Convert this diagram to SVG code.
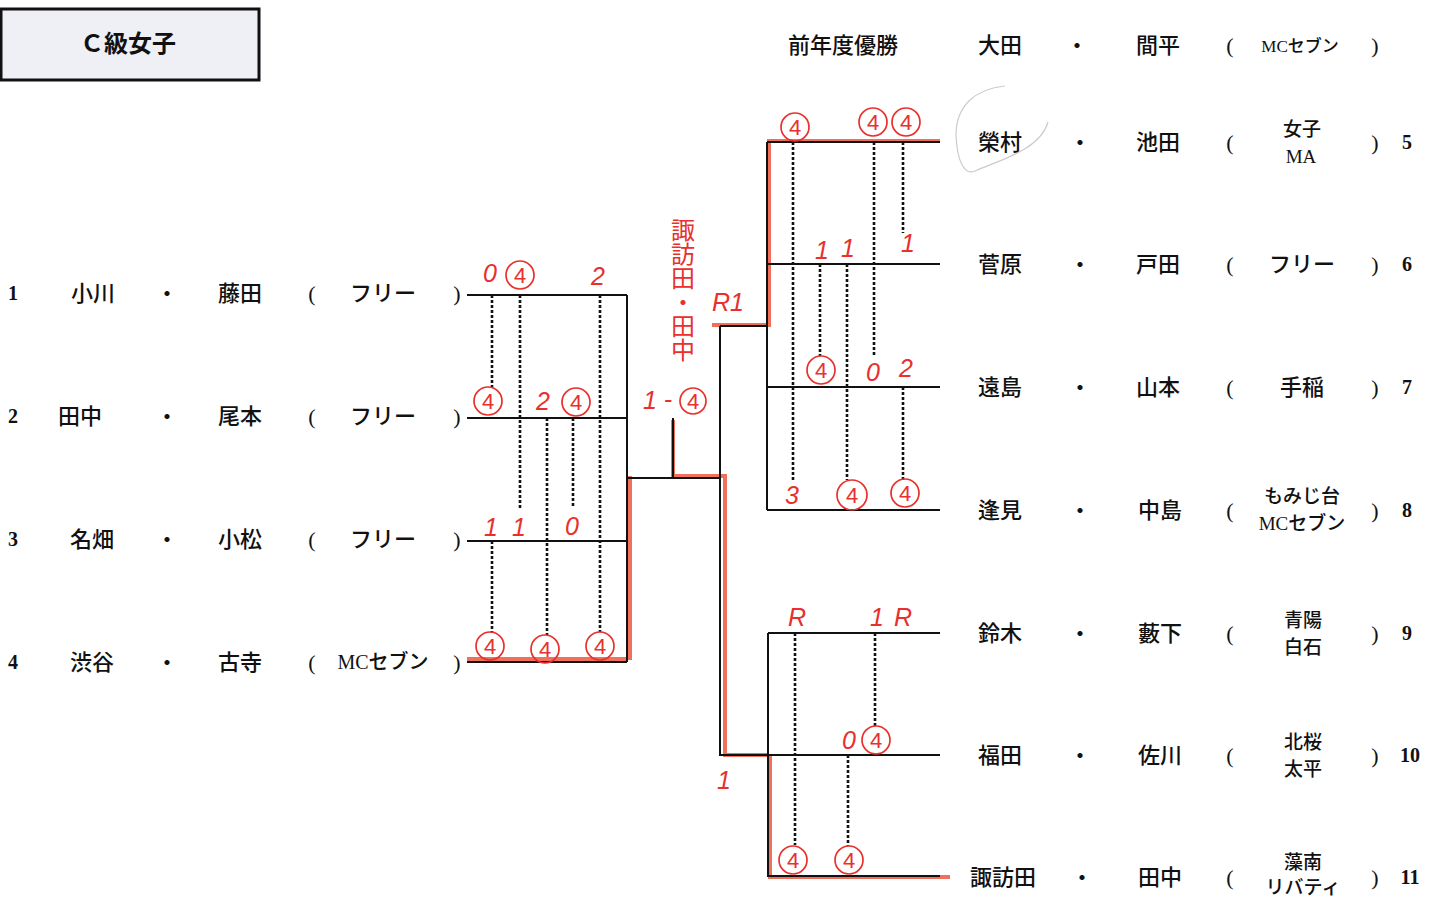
<svg xmlns="http://www.w3.org/2000/svg" width="1431" height="899" viewBox="0 0 1431 899">
<style>
.t{font-family:"Liberation Serif","Noto Sans CJK JP",serif;font-size:22px;font-weight:500;fill:#111;text-anchor:middle}
.s{font-size:19px}
.n{font-family:"Liberation Serif",serif;font-weight:bold;font-size:20px;fill:#111;text-anchor:middle}
.ln{stroke:#111;stroke-width:2;fill:none}
.dt{stroke:#111;stroke-width:2.6;stroke-dasharray:3 2;fill:none}
.rd{stroke:#f0604a;stroke-width:4;fill:none;stroke-opacity:0.9}
.r{font-family:"Liberation Sans",sans-serif;font-style:italic;font-size:25px;fill:#e8302c;text-anchor:middle}
.rc{fill:none;stroke:#e8302c;stroke-width:1.7}
.c4{font-family:"Liberation Sans",sans-serif;font-size:22px;fill:#e8302c;text-anchor:middle}
.rv{font-family:"Noto Sans CJK JP",sans-serif;font-size:24px;fill:#e8302c}
</style>
<rect width="1431" height="899" fill="#fff"/>
<g id="title">
<rect x="1" y="9" width="258" height="71" fill="#eef0f6" stroke="#111" stroke-width="3"/>
<text class="t" x="128" y="52" style="font-size:24px;font-weight:bold">Ｃ級女子</text>
</g>
<g id="champion">
<text class="t" x="843" y="53">前年度優勝</text>
<text class="t" x="1000" y="53">大田</text><text class="t" x="1077" y="53">・</text><text class="t" x="1158" y="53">間平</text>
<text class="t" x="1230" y="53">(</text><text class="t s" x="1300" y="52" style="font-size:17px">MCセブン</text><text class="t" x="1375" y="53">)</text>
</g>
<g id="e1"><text class="n" x="13" y="300">1</text><text class="t" x="93" y="301">小川</text><text class="t" x="167" y="301">・</text><text class="t" x="240" y="301">藤田</text><text class="t" x="312" y="301">(</text><text class="t" x="383" y="301">フリー</text><text class="t" x="457" y="301">)</text></g>
<g id="e2"><text class="n" x="13" y="423">2</text><text class="t" x="80" y="424">田中</text><text class="t" x="167" y="424">・</text><text class="t" x="240" y="424">尾本</text><text class="t" x="312" y="424">(</text><text class="t" x="383" y="424">フリー</text><text class="t" x="457" y="424">)</text></g>
<g id="e3"><text class="n" x="13" y="546">3</text><text class="t" x="92" y="547">名畑</text><text class="t" x="167" y="547">・</text><text class="t" x="240" y="547">小松</text><text class="t" x="312" y="547">(</text><text class="t" x="383" y="547">フリー</text><text class="t" x="457" y="547">)</text></g>
<g id="e4"><text class="n" x="13" y="669">4</text><text class="t" x="92" y="670">渋谷</text><text class="t" x="167" y="670">・</text><text class="t" x="240" y="670">古寺</text><text class="t" x="312" y="670">(</text><text class="t" x="383" y="669" style="font-size:20px">MCセブン</text><text class="t" x="457" y="670">)</text></g>
<g id="e5"><text class="t" x="1000" y="150">榮村</text><text class="t" x="1080" y="150">・</text><text class="t" x="1158" y="150">池田</text><text class="t" x="1230" y="150">(</text><text class="t s" x="1302" y="136">女子</text><text class="t s" x="1301" y="163">MA</text><text class="t" x="1375" y="150">)</text><text class="n" x="1407" y="149">5</text></g>
<g id="e6"><text class="t" x="1000" y="272">菅原</text><text class="t" x="1080" y="272">・</text><text class="t" x="1158" y="272">戸田</text><text class="t" x="1230" y="272">(</text><text class="t" x="1302" y="272">フリー</text><text class="t" x="1375" y="272">)</text><text class="n" x="1407" y="271">6</text></g>
<g id="e7"><text class="t" x="1000" y="395">遠島</text><text class="t" x="1080" y="395">・</text><text class="t" x="1158" y="395">山本</text><text class="t" x="1230" y="395">(</text><text class="t" x="1302" y="395">手稲</text><text class="t" x="1375" y="395">)</text><text class="n" x="1407" y="394">7</text></g>
<g id="e8"><text class="t" x="1000" y="518">逢見</text><text class="t" x="1080" y="518">・</text><text class="t" x="1160" y="518">中島</text><text class="t" x="1230" y="518">(</text><text class="t s" x="1302" y="503">もみじ台</text><text class="t s" x="1302" y="530">MCセブン</text><text class="t" x="1375" y="518">)</text><text class="n" x="1407" y="517">8</text></g>
<g id="e9"><text class="t" x="1000" y="641">鈴木</text><text class="t" x="1080" y="641">・</text><text class="t" x="1160" y="641">藪下</text><text class="t" x="1230" y="641">(</text><text class="t s" x="1303" y="627">青陽</text><text class="t s" x="1303" y="654">白石</text><text class="t" x="1375" y="641">)</text><text class="n" x="1407" y="640">9</text></g>
<g id="e10"><text class="t" x="1000" y="763">福田</text><text class="t" x="1080" y="763">・</text><text class="t" x="1160" y="763">佐川</text><text class="t" x="1230" y="763">(</text><text class="t s" x="1303" y="749">北桜</text><text class="t s" x="1303" y="776">太平</text><text class="t" x="1375" y="763">)</text><text class="n" x="1410" y="762">10</text></g>
<g id="e11"><text class="t" x="1003" y="885">諏訪田</text><text class="t" x="1082" y="885">・</text><text class="t" x="1160" y="885">田中</text><text class="t" x="1230" y="885">(</text><text class="t s" x="1303" y="869">藻南</text><text class="t s" x="1303" y="894">リバティ</text><text class="t" x="1375" y="885">)</text><text class="n" x="1410" y="884">11</text></g>
<g id="connectors">
<path class="rd" d="M467 659H627M630 476V660M673 420V476H725V755H767M712 325H769V141H940M770 755V877H950"/>
<path class="ln" d="M467 295H627M467 418H627M467 541H627M467 662H627M627 295V662M627 478H720M673 418V478M720 326V755H768M720 326H767M767 142V510M767 142H940M767 264H940M767 387H940M767 510H940M768 633V877M768 633H940M768 755H940M768 876H940"/>
<path class="dt" d="M492 295V388M492 541V633M520 295V510M547 418V635M573 418V508M600 295V632M793 142V480M820 264V356M847 264V480M874 142V356M903 142V233M903 387V480M795 633V845M875 633V726M848 755V846"/>
<path d="M1005 86C975 89 956 106 956 135C957 160 964 176 975 171C1000 160 1040 150 1048 122" fill="none" stroke="#ccc" stroke-width="1.2"/>
</g>
<g id="scores">
<text class="r" x="490" y="282">0</text><circle class="rc" cx="520" cy="275" r="14"/><text class="c4" x="520" y="283">4</text><text class="r" x="598" y="285">2</text>
<circle class="rc" cx="488" cy="401" r="14"/><text class="c4" x="488" y="409">4</text><text class="r" x="543" y="410">2</text><circle class="rc" cx="576" cy="402" r="14"/><text class="c4" x="576" y="410">4</text>
<text class="r" x="491" y="536">1</text><text class="r" x="519" y="536">1</text><text class="r" x="572" y="535">0</text>
<circle class="rc" cx="490" cy="646" r="14"/><text class="c4" x="490" y="654">4</text><circle class="rc" cx="545" cy="649" r="14"/><text class="c4" x="545" y="657">4</text><circle class="rc" cx="600" cy="646" r="14"/><text class="c4" x="600" y="654">4</text>
<text class="r" x="650" y="409">1</text><text class="r" x="668" y="408">-</text><circle class="rc" cx="693" cy="401" r="13"/><text class="c4" x="693" y="409">4</text>
<text class="rv" x="683" y="218" writing-mode="vertical-rl">諏訪田・田中</text>
<text class="r" x="728" y="311">R1</text>
<circle class="rc" cx="795" cy="127" r="14"/><text class="c4" x="795" y="135">4</text><circle class="rc" cx="873" cy="122" r="14"/><text class="c4" x="873" y="130">4</text><circle class="rc" cx="906" cy="122" r="14"/><text class="c4" x="906" y="130">4</text>
<text class="r" x="822" y="259">1</text><text class="r" x="848" y="257">1</text><text class="r" x="908" y="252">1</text>
<circle class="rc" cx="821" cy="370" r="14"/><text class="c4" x="821" y="378">4</text><text class="r" x="873" y="381">0</text><text class="r" x="906" y="377">2</text>
<text class="r" x="792" y="504">3</text><circle class="rc" cx="852" cy="495" r="15"/><text class="c4" x="852" y="503">4</text><circle class="rc" cx="905" cy="493" r="14"/><text class="c4" x="905" y="501">4</text>
<text class="r" x="797" y="626">R</text><text class="r" x="877" y="626">1</text><text class="r" x="903" y="626">R</text>
<text class="r" x="849" y="749">0</text><circle class="rc" cx="876" cy="740" r="14"/><text class="c4" x="876" y="748">4</text>
<text class="r" x="724" y="789">1</text>
<circle class="rc" cx="793" cy="860" r="14"/><text class="c4" x="793" y="868">4</text><circle class="rc" cx="849" cy="860" r="14"/><text class="c4" x="849" y="868">4</text>
</g>
</svg>
